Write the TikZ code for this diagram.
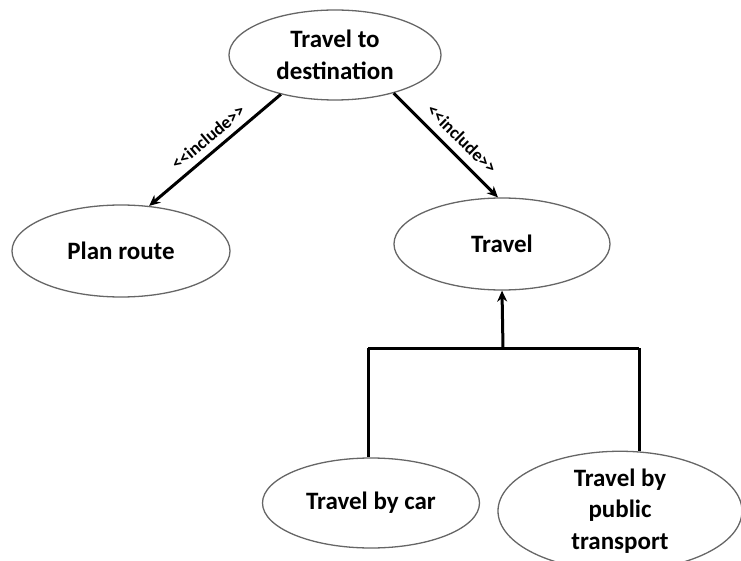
\documentclass[tikz,border=0pt]{standalone}
\usepackage{fontspec}
\setmainfont{Carlito}
\usetikzlibrary{shapes.geometric,arrows.meta}
\begin{document}
\begin{tikzpicture}[x=1pt,y=-1pt,
  uc/.style={ellipse,draw=black!60,line width=1.3pt,inner sep=0pt,align=center,
    font=\fontsize{25}{31.5}\selectfont\bfseries},
  conn/.style={line width=3pt,black},
  arr/.style={conn,-{Stealth[length=11pt,width=10pt]}},
  lbl/.style={font=\fontsize{18}{20}\selectfont\bfseries,inner sep=0pt}]
\useasboundingbox (0,0) rectangle (741,561);
\node[uc,minimum width=212pt,minimum height=90pt] (top) at (335,55) {Travel to\\destination};
\node[uc,minimum width=218pt,minimum height=92pt] (plan) at (121,251) {Plan route};
\node[uc,minimum width=216pt,minimum height=92pt] (travel) at (502,244) {Travel};
\node[uc,minimum width=217pt,minimum height=90pt] (car) at (371,503) {Travel by car};
\node[uc,minimum width=244pt,minimum height=106pt] (pub) at (620,511) {Travel by\\public\\transport};
\draw[arr] (top.216) -- (plan.58);
\draw[arr] (top.-33) -- (travel.95);
\node[lbl,rotate=40] (l1) at (208,137) {{<}{<}include{>}{>}};
\node[lbl,rotate=-44.7] (l2) at (462,139) {{<}{<}include{>}{>}};
\coordinate (j) at (503,348);
\coordinate (jl) at (368,348);
\coordinate (jr) at (639,348);
\draw[conn] (jl) -- (jr);
\draw[conn] (jl) -- (jl |- car.north);
\draw[conn] (jr) -- (jr |- pub.north);
\draw[arr] (j) -- (travel.south);
\end{tikzpicture}
\end{document}
